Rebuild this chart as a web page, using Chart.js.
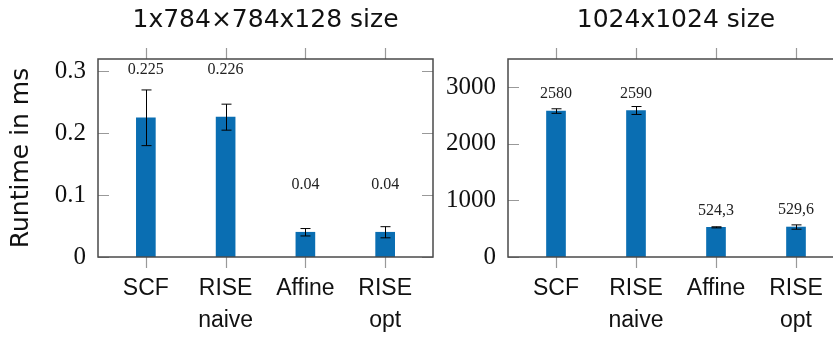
<!DOCTYPE html>
<html>
<head>
<meta charset="utf-8">
<script src="https://cdn.jsdelivr.net/npm/chart.js@4"></script>
<style>
    html, body { margin: 0; padding: 0; overflow: hidden; background: #fff; width: 833px; height: 340px; }
    canvas { position: absolute; top: 0; }
</style>
</head>
<body>
<canvas id="leftChart" width="440" height="340" style="left:0px"></canvas>
<canvas id="rightChart" width="440" height="340" style="left:420px"></canvas>
<script>
// categories and values
const categories = [["SCF"], ["RISE", "naive"], ["Affine"], ["RISE", "opt"]];

const smallRuntime = [0.225, 0.226, 0.04, 0.04];
const smallError = [0.045, 0.021, 0.006, 0.009];
const smallLabels = ["0.225", "0.226", "0.04", "0.04"];
const smallTicks = [0, 0.1, 0.2, 0.3];

const bigRuntime = [2580, 2590, 524.3, 529.6];
const bigError = [40, 70, 10, 38];
const bigLabels = ["2580", "2590", "524,3", "529,6"];
const bigTicks = [0, 1000, 2000, 3000];

const barColor = "#0a6eb2";

// title, box, tick marks, error bars and value labels in pgfplots style
const framePlugin = {
    id: "frame",
    afterDatasetsDraw(chart, args, opts) {
        const ctx = chart.ctx;
        const a = chart.chartArea;
        const xs = chart.scales.x;
        const ys = chart.scales.y;
        ctx.save();

        // title centred over the plot box
        ctx.fillStyle = "#111";
        ctx.font = "25px 'DejaVu Sans'";
        ctx.textAlign = "center";
        ctx.textBaseline = "middle";
        ctx.fillText(opts.title, (a.left + a.right) / 2, 20);

        // error bars
        ctx.strokeStyle = "#000";
        ctx.lineWidth = 1;
        opts.values.forEach((v, i) => {
            const x = Math.round(xs.getPixelForValue(i)) + 0.5;
            const y1 = ys.getPixelForValue(v + opts.errors[i]);
            const y2 = ys.getPixelForValue(v - opts.errors[i]);
            ctx.beginPath();
            ctx.moveTo(x, y1); ctx.lineTo(x, y2);
            ctx.moveTo(x - 5, y1); ctx.lineTo(x + 5, y1);
            ctx.moveTo(x - 5, y2); ctx.lineTo(x + 5, y2);
            ctx.stroke();
        });

        // value labels
        ctx.fillStyle = "#222";
        ctx.font = "16px 'Liberation Serif'";
        opts.values.forEach((v, i) => {
            ctx.fillText(opts.labels[i], xs.getPixelForValue(i), ys.getPixelForValue(v + opts.labelShift));
        });

        // tick marks
        ctx.strokeStyle = "#999";
        ctx.lineWidth = 1.2;
        ctx.beginPath();
        opts.values.forEach((v, i) => {
            const x = Math.round(xs.getPixelForValue(i)) + 0.5;
            ctx.moveTo(x, a.top - 11); ctx.lineTo(x, a.top);
            ctx.moveTo(x, a.bottom); ctx.lineTo(x, a.bottom + 11);
        });
        opts.ticks.forEach(t => {
            const y = Math.round(ys.getPixelForValue(t)) + 0.5;
            ctx.moveTo(a.left, y); ctx.lineTo(a.left + 11, y);
            ctx.moveTo(a.right, y); ctx.lineTo(a.right - 11, y);
        });
        ctx.stroke();

        // box
        ctx.strokeStyle = "#4a4a4a";
        ctx.lineWidth = 1.5;
        ctx.strokeRect(a.left, a.top, a.right - a.left, a.bottom - a.top);
        ctx.restore();
    }
};

function makeChart(id, title, values, errors, labels, ticks, yMax, labelShift, axisWidth, padRight, yTitle) {
    const ctx = document.getElementById(id).getContext("2d");
    return new Chart(ctx, {
        type: "bar",
        data: {
            datasets: [{
                data: values.map((v, i) => ({ x: i, y: v })),
                backgroundColor: barColor,
                borderWidth: 0,
                barThickness: 19
            }]
        },
        plugins: [framePlugin],
        options: {
            responsive: false,
            animation: false,
            layout: { padding: { left: 0, right: padRight, top: 59, bottom: 0 } },
            plugins: {
                legend: { display: false },
                tooltip: { enabled: false },
                title: { display: false },
                frame: { title: title, values: values, errors: errors, labels: labels, ticks: ticks, labelShift: labelShift }
            },
            scales: {
                x: {
                    type: "linear",
                    offset: false,
                    min: -0.6,
                    max: 3.6,
                    grid: { display: false, drawTicks: false, offset: false },
                    border: { display: false },
                    afterBuildTicks: s => { s.ticks = categories.map((c, i) => ({ value: i })); },
                    afterFit: s => { s.height = 83; },
                    ticks: {
                        padding: 16,
                        color: "#111",
                        maxRotation: 0,
                        autoSkip: false,
                        font: { family: "'Liberation Sans'", size: 23, lineHeight: 1.39 },
                        callback: v => categories[v]
                    }
                },
                y: {
                    min: 0,
                    max: yMax,
                    grid: { display: false, drawTicks: false },
                    border: { display: false },
                    afterBuildTicks: s => { s.ticks = ticks.map(t => ({ value: t })); },
                    afterFit: s => { s.width = axisWidth; },
                    ticks: {
                        padding: 12,
                        color: "#111",
                        font: { family: "'Liberation Serif'", size: 25 },
                        callback: v => String(v)
                    },
                    title: {
                        display: yTitle !== "",
                        text: yTitle,
                        color: "#111",
                        font: { family: "'DejaVu Sans'", size: 25, lineHeight: 1.2 },
                        padding: { top: 6, bottom: 0 }
                    }
                }
            }
        }
    });
}

makeChart("leftChart", "1x784\u00d7784x128 size", smallRuntime, smallError, smallLabels, smallTicks,
    0.32, 0.077, 98, 7, "Runtime in ms");
makeChart("rightChart", "1024x1024 size", bigRuntime, bigError, bigLabels, bigTicks,
    3500, 300, 88, 16, "");
</script>
</body>
</html>
